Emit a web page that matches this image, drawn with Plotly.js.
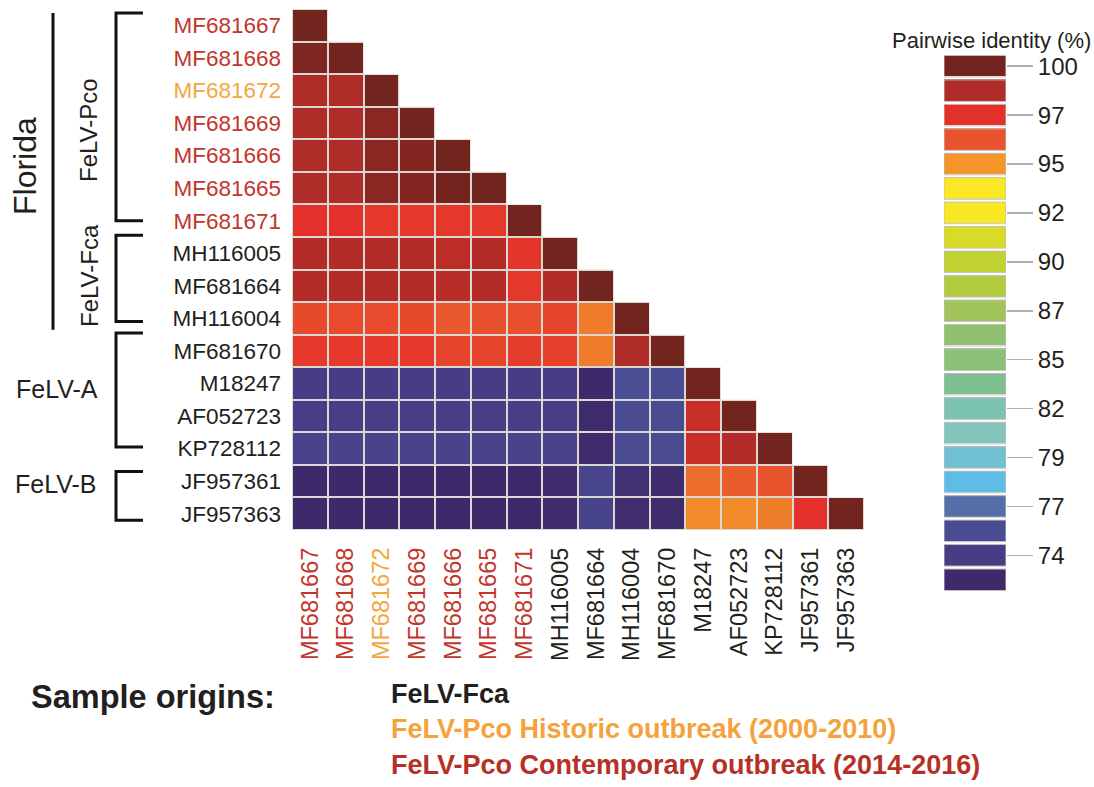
<!DOCTYPE html>
<html>
<head>
<meta charset="utf-8">
<script src="https://cdn.plot.ly/plotly-3.0.1.min.js"></script>
<style>html,body{margin:0;padding:0;background:#fff;}#chart{width:1094px;height:787px;}</style>
</head>
<body>
<div id="chart"></div>
<script>
// ---- data ----
var sequences = ["MF681667","MF681668","MF681672","MF681669","MF681666","MF681665","MF681671",
  "MH116005","MF681664","MH116004","MF681670","M18247","AF052723","KP728112","JF957361","JF957363"];
// label colour group: "c" = contemporary (red), "h" = historic (orange), "f" = FeLV-Fca / reference (black)
var labelGroup = ["c","c","h","c","c","c","c","f","f","f","f","f","f","f","f","f"];

var identityRows = [
  [100],
  [99.75, 100],
  [98.7, 98.7, 100],
  [98.7, 98.7, 99.5, 100],
  [98.7, 98.7, 99.5, 99.65, 100],
  [98.7, 98.7, 99.5, 99.65, 99.95, 100],
  [97.4, 97.4, 97.1, 97.1, 97.1, 97.1, 100],
  [98.6, 98.6, 98.6, 98.6, 98.4, 98.6, 97.2, 100],
  [98.6, 98.6, 98.6, 98.6, 98.5, 98.6, 97.1, 98.6, 100],
  [96.45, 96.4, 96.4, 96.45, 96.0, 96.2, 96.2, 96.6, 95.3, 100],
  [97.0, 97.0, 97.0, 97.0, 96.6, 96.6, 96.9, 96.8, 95.3, 98.7, 100],
  [74.0, 74.0, 74.0, 74.0, 74.0, 74.0, 74.0, 74.0, 72.7, 75.4, 75.3, 100],
  [74.05, 74.05, 74.05, 74.05, 74.05, 74.05, 74.05, 74.05, 72.75, 75.1, 75.1, 98.05, 100],
  [74.5, 74.5, 74.5, 74.5, 74.5, 74.5, 74.5, 74.5, 72.8, 75.1, 75.1, 98.05, 98.6, 100],
  [72.7, 72.7, 72.7, 72.7, 72.7, 72.7, 72.7, 72.85, 74.7, 73.2, 72.85, 95.55, 95.9, 96.1, 100],
  [72.7, 72.7, 72.7, 72.7, 72.7, 72.7, 72.7, 72.85, 74.6, 73.0, 72.85, 95.0, 95.0, 95.25, 97.4, 100]
];

// colour key: 22 levels, top (100) to bottom
var keyValues = [100, 98.7, 97.4, 96.1, 94.8, 93.5, 92.2, 90.9, 89.6, 88.3, 87.0,
  85.7, 84.4, 83.1, 81.8, 80.5, 79.2, 77.9, 76.6, 75.3, 74.0, 72.7];
var keyColors = ["#72241f","#b02c28","#e3302a","#e8522c","#f3952a","#fbe824","#f8e823","#d9dc27",
  "#c0d333","#b1cd3f","#a2c55b","#90c170","#8cc079","#7dbf90","#7cc2b0","#81c5bd","#6fc0d0",
  "#5ebde6","#566fab","#4a4c93","#473d85","#3e2a6a"];
var keyTickLevels = [0, 2, 4, 6, 8, 10, 12, 14, 16, 18, 20];
var keyTickLabels = ["100","97","95","92","90","87","85","82","79","77","74"];

var legendTitle = "Sample origins:";
var legendItems = ["FeLV-Fca", "FeLV-Pco Historic outbreak (2000-2010)", "FeLV-Pco Contemporary outbreak (2014-2016)"];
var legendColors = ["#231f20", "#f4a23c", "#b53126"];

// ---- build ----
var groupColor = {c: "#c2352b", h: "#f4a63c", f: "#231f20"};
var n = sequences.length;
var z = [];
for (var r = 0; r < n; r++) {
  var row = [];
  for (var c = 0; c < n; c++) row.push(c <= r ? identityRows[r][c] : null);
  z.push(row);
}
var zmin = 72.7, zmax = 100;
var asc = keyValues.map(function(v, i){ return [v, keyColors[i]]; }).sort(function(a,b){return a[0]-b[0];});
var colorscale = asc.map(function(p){ return [(p[0]-zmin)/(zmax-zmin), p[1]]; });
colorscale[0][0] = 0; colorscale[colorscale.length-1][0] = 1;

var tickText = sequences.map(function(s, i){
  return '<span style="color:' + groupColor[labelGroup[i]] + '">' + s + '</span>';
});

var W = 1094, H = 787, L = 292, R = 88, T = 9, B = 195;
var pw = W - L - R, ph = H - T - B;
function px(x){ return (x - L) / pw; }
function py(y){ return (H - B - y) / ph; }

var FONT = "Liberation Sans, Arial, sans-serif";

var heat = {
  type: "heatmap", x: sequences, y: sequences, z: z,
  colorscale: colorscale, zmin: zmin, zmax: zmax, showscale: false,
  xgap: 2, ygap: 2, hoverinfo: "skip", xaxis: "x", yaxis: "y"
};
var key = {
  type: "heatmap", x: [0], y: keyValues.map(function(v,i){return i;}),
  z: keyValues.map(function(v){ return [v]; }),
  colorscale: colorscale, zmin: zmin, zmax: zmax, showscale: false,
  ygap: 3, hoverinfo: "skip", xaxis: "x2", yaxis: "y2"
};

// staircase background for light grid lines
var stair = "M -0.5,-0.5";
for (var r2 = 0; r2 < n; r2++) stair += " L " + (r2+0.5) + "," + (r2-0.5) + " L " + (r2+0.5) + "," + (r2+0.5);
stair += " L -0.5," + (n-0.5) + " Z";

function bracket(y0, y1){
  var xa = px(116), xb = px(143);
  return {type: "path", xref: "paper", yref: "y",
    path: "M " + xb + "," + y0 + " L " + xa + "," + y0 + " L " + xa + "," + y1 + " L " + xb + "," + y1,
    line: {color: "#111", width: 3}};
}

var shapes = [
  {type: "path", xref: "x", yref: "y", path: stair, fillcolor: "#dcd7d0", line: {width: 0}, layer: "below"},
  bracket(-0.38, 6.0), bracket(6.45, 9.1), bracket(9.45, 12.95), bracket(13.7, 15.2),
  {type: "line", xref: "paper", yref: "y", x0: px(53), x1: px(53), y0: -0.38, y1: 9.35, line: {color: "#111", width: 3}}
];
// thin grey outline around each key box
keyValues.forEach(function(v, i){
  shapes.push({type: "rect", xref: "x2", yref: "y2", x0: -0.5, x1: 0.5, y0: i-0.44, y1: i+0.44,
    line: {color: "#c4c0bc", width: 1}, fillcolor: "rgba(0,0,0,0)"});
});

var annotations = [
  {text: "Pairwise identity (%)", x: px(1093), y: py(40), xref: "paper", yref: "paper", xanchor: "right", yanchor: "middle", showarrow: false, font: {family: FONT, size: 22, color: "#231f20"}},
  {text: "Florida", x: px(25), y: py(166), xref: "paper", yref: "paper", xanchor: "center", yanchor: "middle", textangle: -90, showarrow: false, font: {family: FONT, size: 32, color: "#231f20"}},
  {text: "FeLV-Pco", x: px(89), y: py(130), xref: "paper", yref: "paper", xanchor: "center", yanchor: "middle", textangle: -90, showarrow: false, font: {family: FONT, size: 24, color: "#231f20"}},
  {text: "FeLV-Fca", x: px(89), y: py(276), xref: "paper", yref: "paper", xanchor: "center", yanchor: "middle", textangle: -90, showarrow: false, font: {family: FONT, size: 24, color: "#231f20"}},
  {text: "FeLV-A", x: px(57), y: py(389), xref: "paper", yref: "paper", xanchor: "center", yanchor: "middle", showarrow: false, font: {family: FONT, size: 25, color: "#231f20"}},
  {text: "FeLV-B", x: px(56), y: py(484), xref: "paper", yref: "paper", xanchor: "center", yanchor: "middle", showarrow: false, font: {family: FONT, size: 25, color: "#231f20"}},
  {text: "<b>" + legendTitle + "</b>", x: px(29), y: py(697), xref: "paper", yref: "paper", xanchor: "left", yanchor: "middle", showarrow: false, font: {family: FONT, size: 32.5, color: "#231f20"}}
];
var legendY = [694, 729, 765];
legendItems.forEach(function(t, i){
  annotations.push({text: "<b>" + t + "</b>", x: px(389), y: py(legendY[i]), xref: "paper", yref: "paper", xanchor: "left", yanchor: "middle", showarrow: false, font: {family: FONT, size: 27, color: legendColors[i]}});
});

var layout = {
  width: W, height: H,
  margin: {l: L, r: R, t: T, b: B, pad: 0},
  paper_bgcolor: "#fff", plot_bgcolor: "rgba(0,0,0,0)",
  showlegend: false,
  font: {family: FONT, color: "#231f20"},
  xaxis: {domain: [0, px(864)], anchor: "y", range: [-0.5, n-0.5], type: "category",
    tickvals: sequences, ticktext: tickText, tickangle: -90, tickfont: {family: FONT, size: 23.5},
    ticks: "", ticklabelstandoff: 12, showgrid: false, zeroline: false, showline: false, fixedrange: true},
  yaxis: {domain: [py(530), 1], anchor: "x", range: [n-0.5, -0.5], type: "category",
    tickvals: sequences, ticktext: tickText, tickfont: {family: FONT, size: 22.5},
    ticks: "", ticklabelstandoff: 10, showgrid: false, zeroline: false, showline: false, fixedrange: true},
  xaxis2: {domain: [px(944), 1], anchor: "y2", range: [-0.5, 0.5], visible: false, fixedrange: true},
  yaxis2: {domain: [0, py(54)], anchor: "x2", side: "right", range: [keyValues.length-0.5, -0.5],
    tickvals: keyTickLevels, ticktext: keyTickLabels, tickfont: {family: FONT, size: 24, color: "#231f20"},
    ticks: "outside", ticklen: 26, tickwidth: 1.5, tickcolor: "#b0b0b0",
    showgrid: false, zeroline: false, showline: false, fixedrange: true},
  shapes: shapes,
  annotations: annotations
};

Plotly.newPlot("chart", [heat, key], layout, {displayModeBar: false, staticPlot: true});
</script>
</body>
</html>
